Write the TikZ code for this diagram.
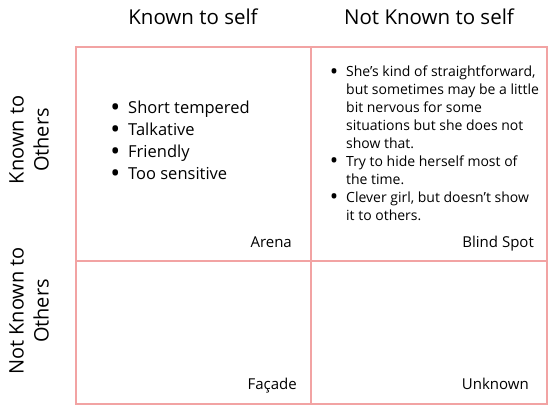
\documentclass[tikz,border=0pt]{standalone}
\usepackage{fontspec}
\setmainfont{Open Sans}
\usepackage{enumitem}
\definecolor{gridpink}{HTML}{F2A3A3}
\newcommand{\bigdot}{\smash{\raisebox{-0.32ex}{\scalebox{1.6}{\textbullet}}}}
\tikzset{
  head/.style={font=\fontsize{20.5}{24}\selectfont, text=black},
  side/.style={font=\fontsize{20}{25}\selectfont, rotate=90, align=center},
  tag/.style={font=\fontsize{15}{18}\selectfont, anchor=base east, inner sep=0pt},
  listbox/.style={anchor=north west, inner sep=0pt}
}
\begin{document}
\begin{tikzpicture}[x=1pt,y=-1pt]
			\useasboundingbox (0,0) rectangle (548,407);
			% grid
			\draw[gridpink, line width=2pt] (76,46.5) rectangle (547,403.5);
			\draw[gridpink, line width=2pt] (311,46.5) -- (311,403.5);
			\draw[gridpink, line width=2pt] (76,261) -- (547,261);
			% headings
			\node[head] (selfknown) at (193,17) {Known to self};
			\node[head] (selfnot) at (429,17) {Not Known to self};
			\node[side] (othersknown) at (29,140) {Known to\\Others};
			\node[side] (othersnot) at (29,311) {Not Known to\\Others};
			% arena list
			\node[listbox] (arenalist) at (108,101) {\begin{minipage}{185pt}\fontsize{16.5}{22}\selectfont
				\begin{itemize}[leftmargin=20pt, labelsep=8pt, label=\bigdot, itemsep=0pt, topsep=0pt, parsep=0pt]
				\item Short tempered
				\item Talkative
				\item Friendly
				\item Too sensitive
				\end{itemize}\end{minipage}};
			% blind spot list
			\node[listbox] (blindlist) at (326,66) {\begin{minipage}{218pt}\fontsize{14}{17.9}\selectfont\raggedright
				\begin{itemize}[leftmargin=20pt, labelsep=8pt, label=\bigdot, itemsep=0pt, topsep=0pt, parsep=0pt]
				\item She’s kind of straightforward,\newline but sometimes may be a little\newline bit nervous for some\newline situations but she does not\newline show that.
				\item Try to hide herself most of\newline the time.
				\item Clever girl, but doesn’t show\newline it to others.
				\end{itemize}\end{minipage}};
			% quadrant names
			\node[tag] (arena) at (292,247) {Arena};
			\node[tag] (blindspot) at (534,247) {Blind Spot};
			\node[tag] (facade) at (297,389) {Façade};
			\node[tag] (unknown) at (529,389) {Unknown};
\end{tikzpicture}
\end{document}
